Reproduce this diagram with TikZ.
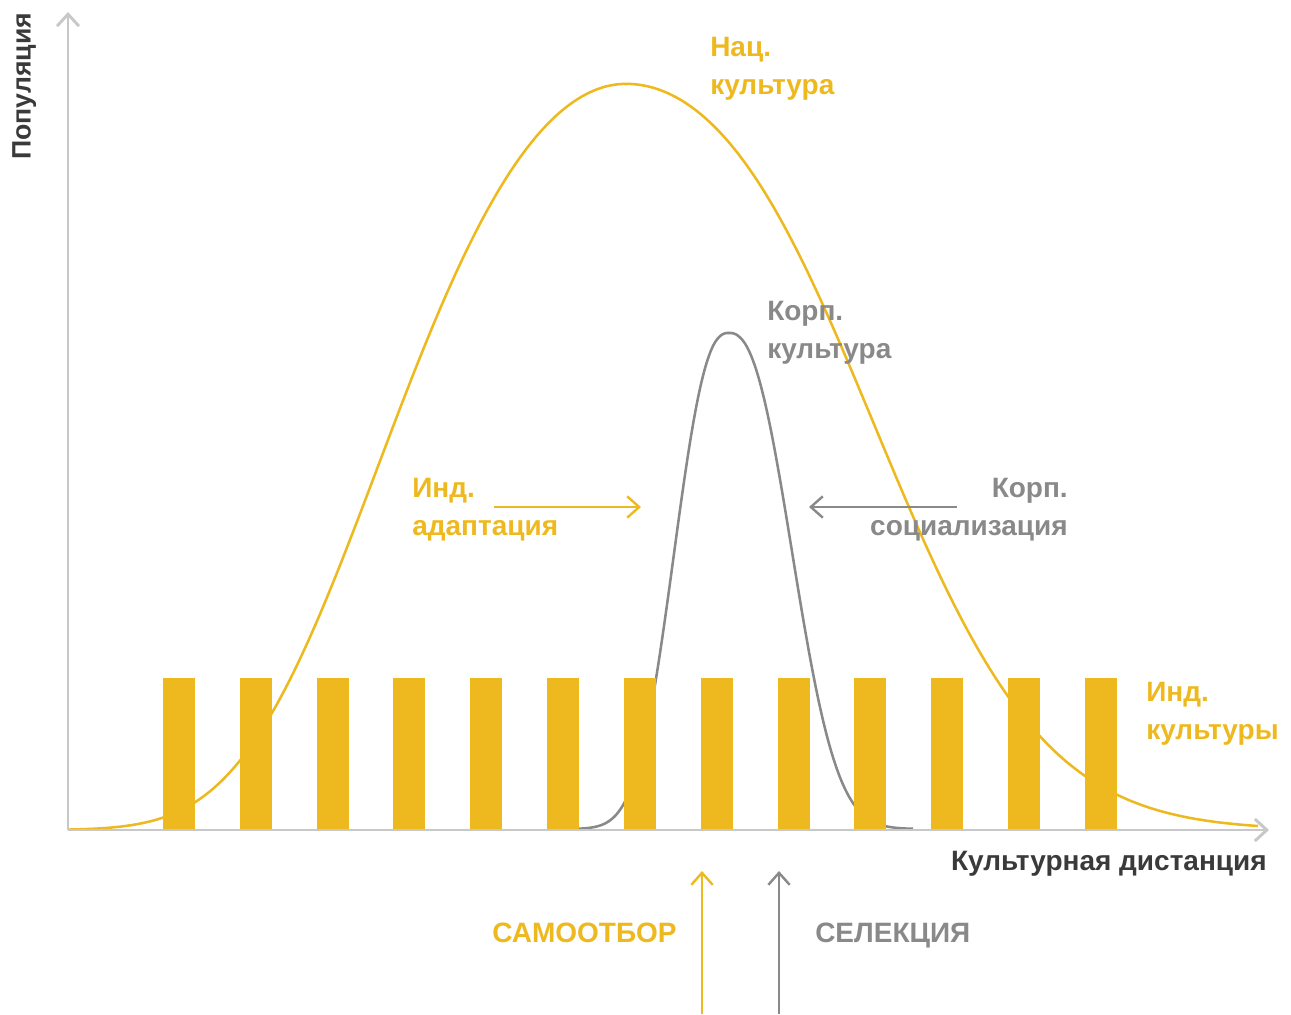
\documentclass[tikz,border=0pt]{standalone}
\usepackage{fontspec}
\setmainfont{Liberation Sans}
\usetikzlibrary{arrows.meta}
\definecolor{cyel}{HTML}{EDB91F}
\definecolor{cgray}{HTML}{898989}
\definecolor{cdark}{HTML}{3A3A3A}
\definecolor{caxis}{HTML}{C8C8C8}
\begin{document}
\begin{tikzpicture}[x=0.75pt,y=-0.75pt,
  declare function={fl(\d)=(\d/339)^2+(\d/379)^4;
                    fr(\u)=\u*\u*(0.132-0.061*exp(0-\u*\u/10));},
  lbl/.style={inner sep=0pt, font=\fontsize{21}{28.5}\selectfont\bfseries, align=left},
  axisline/.style={draw=caxis, line width=2.2pt, -{Straight Barb[length=9pt,width=16.5pt]}},
  curvey/.style={draw=cyel, line width=1.9pt, line join=round},
  curveg/.style={draw=cgray, line width=1.9pt, line join=round},
  arry/.style={draw=cyel, line width=1.8pt, -{Straight Barb[length=9pt,width=16pt]}},
  arrg/.style={draw=cgray, line width=1.8pt, -{Straight Barb[length=9pt,width=16pt]}},
  bar/.style={fill=cyel}]
\useasboundingbox (0,0) rectangle (1291,1014);

% national culture curve
\draw[curvey] plot[domain=68:626, samples=140, smooth] (\x,{830-746*exp(0-fl(626-\x))})
  -- plot[domain=626:1258, samples=160, smooth] (\x,{830-746*exp(0-fr((\x-626)/100))});
% corporate culture curve
\draw[curveg] plot[domain=578:729, samples=80, smooth] (\x,{829-496*exp(-((729.001-\x)/68)^2.5)})
  -- plot[domain=729:913, samples=90, smooth] (\x,{829-496*exp(-((\x-728.999)/79)^2.4)});

% bars
\foreach \i in {0,...,12} {
  \fill[bar] ({163+76.83*\i},678) rectangle ({195+76.83*\i},830);
}

% axes
\coordinate (origin) at (68,830);
\coordinate (ytop) at (68,12);
\coordinate (xend) at (1269,830);
\draw[axisline] (origin) -- (ytop);
\draw[axisline] (origin) -- (xend);

% labels
\node[lbl, font=\fontsize{20}{28.5}\selectfont\bfseries, text=cdark, rotate=90, anchor=north west] (ylab) at (12,160) {Популяция};
\node[lbl, text=cdark, anchor=north east] (xlab) at (1267,851) {Культурная дистанция};
\node[lbl, text=cyel, anchor=north west] (nat) at (710,37) {Нац.\\культура};
\node[lbl, text=cgray, anchor=north west] (corp) at (767,301) {Корп.\\культура};
\node[lbl, text=cyel, anchor=north west] (ada) at (412,478) {Инд.\\адаптация};
\node[lbl, text=cgray, anchor=north east, align=right] (soc) at (1068,478) {Корп.\\социализация};
\node[lbl, text=cyel, anchor=north west] (ind) at (1146,682) {Инд.\\культуры};
\node[lbl, text=cyel, anchor=north west] (self) at (492,923) {САМООТБОР};
\node[lbl, text=cgray, anchor=north west] (sel) at (815,923) {СЕЛЕКЦИЯ};

% arrows
\coordinate (adaS) at (494,507);
\coordinate (adaE) at (641,507);
\coordinate (socS) at (957,507);
\coordinate (socE) at (809,507);
\coordinate (selfS) at (702,1014);
\coordinate (selfE) at (702,871);
\coordinate (selS) at (779,1014);
\coordinate (selE) at (779,871);
\draw[arry] (adaS) -- (adaE);
\draw[arrg] (socS) -- (socE);
\draw[arry] (selfS) -- (selfE);
\draw[arrg] (selS) -- (selE);
\end{tikzpicture}
\end{document}
